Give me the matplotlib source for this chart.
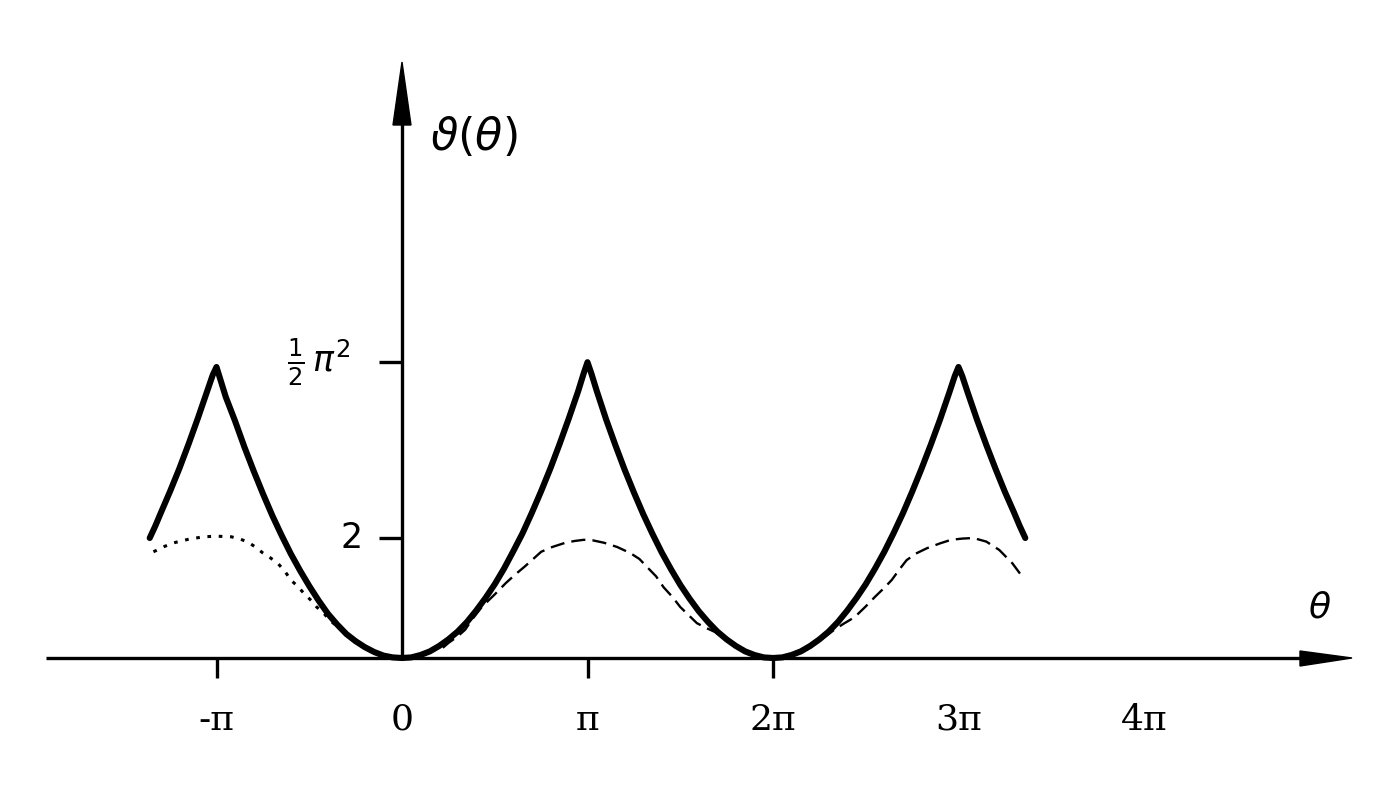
import matplotlib
matplotlib.use('Agg')
from matplotlib import pyplot as plt
import numpy as np

# theta in units of pi
theta_solid = [-1.36, -1.33, -1.30, -1.25, -1.20, -1.15, -1.10, -1.05, -1.02,
               -1.00, -0.98, -0.95, -0.90, -0.85, -0.80, -0.75, -0.70, -0.65,
               -0.60, -0.55, -0.50, -0.45, -0.40, -0.35, -0.30, -0.25, -0.20,
               -0.15, -0.10, -0.05, 0.00, 0.05, 0.10, 0.15, 0.20, 0.25, 0.30,
               0.35, 0.40, 0.45, 0.50, 0.55, 0.60, 0.65, 0.70, 0.75, 0.80,
               0.85, 0.90, 0.95, 0.98, 1.00, 1.02, 1.05, 1.10, 1.15, 1.20,
               1.25, 1.30, 1.35, 1.40, 1.45, 1.50, 1.55, 1.60, 1.65, 1.70,
               1.75, 1.80, 1.85, 1.90, 1.95, 2.00, 2.05, 2.10, 2.15, 2.20,
               2.25, 2.30, 2.35, 2.40, 2.45, 2.50, 2.55, 2.60, 2.65, 2.70,
               2.75, 2.80, 2.85, 2.90, 2.95, 2.98, 3.00, 3.02, 3.05, 3.10,
               3.15, 3.20, 3.25, 3.30, 3.33, 3.36]
v_solid = [2.0, 2.2, 2.42, 2.78, 3.16, 3.57, 4.0, 4.45, 4.72,
           4.85, 4.65, 4.35, 3.95, 3.52, 3.12, 2.74, 2.38, 2.05,
           1.74, 1.46, 1.2, 0.96, 0.74, 0.56, 0.4, 0.28, 0.18,
           0.1, 0.04, 0.01, 0.0, 0.01, 0.05, 0.11, 0.2, 0.31, 0.44,
           0.6, 0.79, 1.0, 1.23, 1.49, 1.78, 2.08, 2.42, 2.78, 3.16,
           3.57, 4.0, 4.45, 4.75, 4.93, 4.75, 4.45, 3.98, 3.55, 3.14,
           2.76, 2.4, 2.07, 1.76, 1.48, 1.22, 0.99, 0.78, 0.6, 0.44,
           0.31, 0.2, 0.11, 0.05, 0.01, 0.0, 0.01, 0.05, 0.11, 0.2,
           0.31, 0.44, 0.6, 0.79, 1.0, 1.23, 1.49, 1.77, 2.08, 2.41,
           2.77, 3.15, 3.55, 3.97, 4.42, 4.7, 4.85, 4.7, 4.42, 3.97,
           3.55, 3.15, 2.77, 2.42, 2.2, 2.0]

theta_dot = [-1.34, -1.28, -1.23, -1.15, -1.07, -1.00, -0.92, -0.87, -0.83,
             -0.79, -0.75, -0.71, -0.67, -0.63, -0.60, -0.56, -0.53, -0.49,
             -0.46, -0.42, -0.39, -0.33]
v_dot = [1.77, 1.86, 1.92, 1.98, 2.02, 2.03, 2.02, 1.98, 1.93,
         1.85, 1.75, 1.67, 1.58, 1.44, 1.30, 1.19, 1.08, 0.96,
         0.85, 0.74, 0.63, 0.48]

theta_dash = [0.22, 0.25, 0.30, 0.34, 0.38, 0.43, 0.50, 0.56, 0.61, 0.66,
              0.70, 0.75, 0.81, 0.88, 0.93, 0.98, 1.03, 1.09, 1.16, 1.23,
              1.28, 1.32, 1.37, 1.41, 1.46, 1.50, 1.55, 1.59, 1.64, 1.69,
              1.75, 1.80, 1.85, 1.90, 1.95, 2.00, 2.05, 2.10, 2.15, 2.20,
              2.27, 2.33, 2.38, 2.44, 2.50, 2.55, 2.60, 2.64, 2.68, 2.72,
              2.77, 2.83, 2.90, 2.96, 3.02, 3.08, 3.15, 3.22, 3.29, 3.35]
v_dash = [0.17, 0.25, 0.36, 0.47, 0.65, 0.85, 1.06, 1.25, 1.39, 1.52,
          1.63, 1.77, 1.85, 1.92, 1.95, 1.97, 1.96, 1.92, 1.85, 1.75,
          1.65, 1.52, 1.36, 1.18, 1.01, 0.85, 0.70, 0.58, 0.50, 0.43,
          0.30, 0.2, 0.11, 0.05, 0.01, 0.0, 0.01, 0.05, 0.11, 0.2,
          0.33, 0.47, 0.57, 0.68, 0.86, 1.02, 1.17, 1.30, 1.47, 1.63,
          1.74, 1.83, 1.91, 1.97, 1.99, 2.0, 1.94, 1.80, 1.58, 1.33]

xtick_pos = [-1, 0, 1, 2, 3, 4]
xtick_labels = ['-π', '0', 'π', '2π', '3π', '4π']
xtick_marks = [-1, 1, 2]
ytick_pos = [2, 0.5 * np.pi ** 2]
ytick_labels = ['2', r'$\frac{1}{2}\,\pi^2$']

X0, Y0 = 402, 658      # origin in pixels
SX, SY = 185.5, 60     # px per pi, px per unit

fig = plt.figure(figsize=(13.89, 8), dpi=100)
ax = fig.add_axes([0, 0, 1, 1])
ax.set_xlim(-X0 / SX, (1389 - X0) / SX)
ax.set_ylim(-(800 - Y0) / SY, Y0 / SY)
ax.axis('off')

px = 1 / SX
py = 1 / SY

# axes with arrow heads
ax.plot([(46 - X0) * px, (1310 - X0) * px], [0, 0], color='black', lw=2.4,
        solid_capstyle='butt')
ax.plot([0, 0], [0, (Y0 - 120) * py], color='black', lw=2.4,
        solid_capstyle='butt')
ax.fill([(1300 - X0) * px, (1352 - X0) * px, (1300 - X0) * px],
        [7 * py, 0, -8 * py], color='black')
ax.fill([-9 * px, 0, 9 * px], [(Y0 - 125) * py, (Y0 - 62) * py,
                               (Y0 - 125) * py], color='black')

for t in xtick_marks:
    ax.plot([t, t], [0, -20 * py], color='black', lw=2.4,
            solid_capstyle='butt')
for v in ytick_pos:
    ax.plot([-23 * px, 0], [v, v], color='black', lw=2.4,
            solid_capstyle='butt')

# curves
ax.plot(theta_solid, v_solid, color='black', lw=4.4, solid_joinstyle='round',
        solid_capstyle='round')
ax.plot(theta_dot, v_dot, color='black', lw=2.2, linestyle=(0, (1.2, 2.5)))
ax.plot(theta_dash, v_dash, color='black', lw=1.7, linestyle=(0, (6, 3)))

# labels
for t, lab in zip(xtick_pos, xtick_labels):
    ax.text(t, -(720 - Y0) * py, lab, ha='center', va='center',
            fontsize=26, family='DejaVu Serif')
ax.text(-50 * px, 2, ytick_labels[0], ha='center', va='center', fontsize=25,
        family='DejaVu Sans')
ax.text(-83 * px, 0.5 * np.pi ** 2, ytick_labels[1], ha='center',
        va='center', fontsize=25)
ax.text(28 * px, (Y0 - 137) * py, r'$\vartheta(\theta)$', ha='left',
        va='center', fontsize=32)
ax.text((1320 - X0) * px, (Y0 - 608) * py, r'$\theta$', ha='center',
        va='center', fontsize=26)

fig.savefig('out.png', dpi=100, facecolor='white')
